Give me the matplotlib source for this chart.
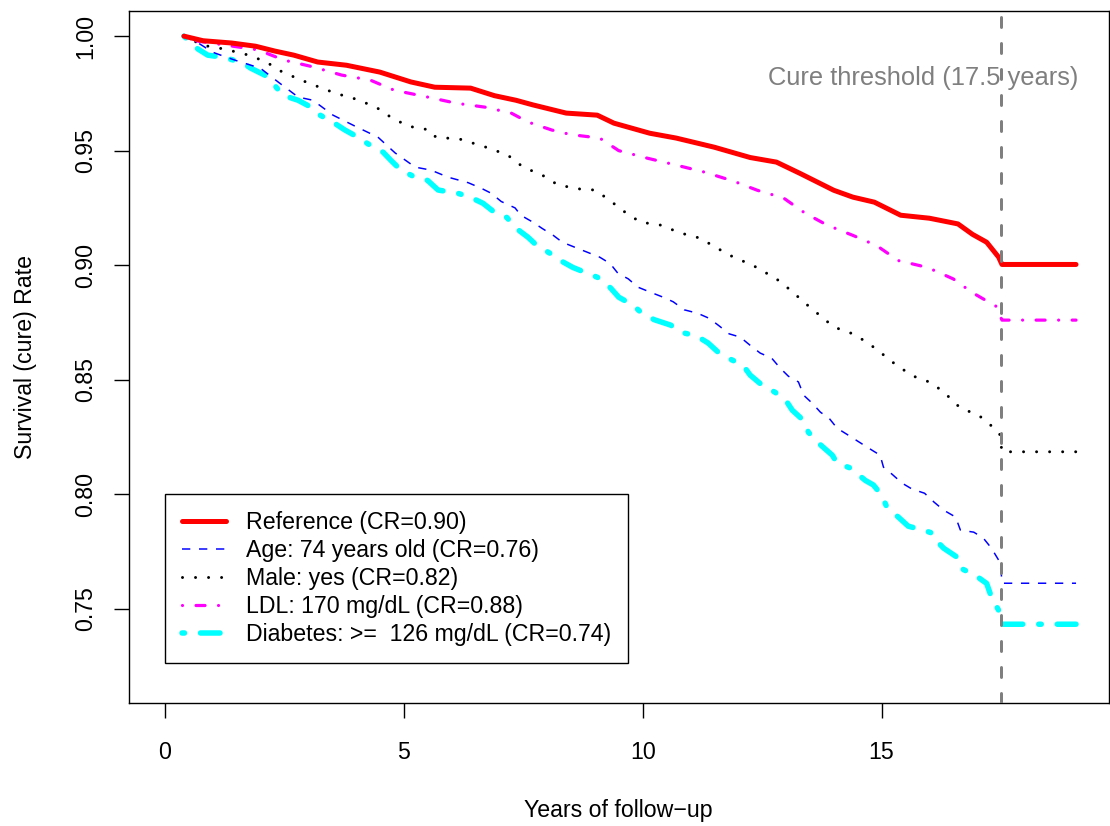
import matplotlib
matplotlib.use("Agg")
import matplotlib.pyplot as plt

plt.rcParams['font.family'] = ['Liberation Sans', 'DejaVu Sans']

# ---------------- data ----------------
ref_t = [0.40, 0.80, 1.40, 1.90, 2.30, 2.70, 3.20, 3.80, 4.50, 5.15, 5.65, 6.40,
         6.90, 7.35, 7.70, 8.40, 9.05, 9.40, 10.15, 10.70, 11.50, 12.25, 12.80,
         13.30, 14.00, 14.40, 14.85, 15.40, 16.00, 16.60, 16.90, 17.20, 17.45,
         17.52, 19.07]
ref_s = [1.000, 0.998, 0.997, 0.9956, 0.9935, 0.9917, 0.9887, 0.9873, 0.9843,
         0.980, 0.9777, 0.9773, 0.974, 0.972, 0.970, 0.9664, 0.9655, 0.962,
         0.9576, 0.9555, 0.9515, 0.947, 0.945, 0.940, 0.9327, 0.9297, 0.9275,
         0.9218, 0.9205, 0.918, 0.9135, 0.910, 0.9035, 0.9003, 0.9003]

age_t = [0.40, 0.70, 1.00, 1.17, 1.47, 2.00, 2.37, 2.79, 3.10, 3.52, 3.98, 4.46,
         4.82, 5.24, 5.57, 5.93, 6.35, 6.62, 6.83, 7.04, 7.33, 7.45, 7.70, 7.90,
         8.13, 8.32, 8.63, 9.10, 9.32, 9.48, 9.70, 9.90, 10.16, 10.43, 10.64,
         10.87, 11.15, 11.39, 11.60, 11.81, 12.04, 12.25, 12.46, 12.70, 12.88,
         13.05, 13.26, 13.37, 13.55, 13.72, 13.90, 14.07, 14.30, 14.70, 14.97,
         15.04, 15.22, 15.43, 15.64, 15.90, 16.10, 16.30, 16.55, 16.65, 16.93,
         17.13, 17.30, 17.45, 17.50, 17.52, 19.07]
age_s = [1.000, 0.997, 0.993, 0.9917, 0.9895, 0.986, 0.980, 0.9734, 0.972,
         0.9655, 0.9607, 0.9559, 0.949, 0.9428, 0.9415, 0.9384, 0.936, 0.9336,
         0.9314, 0.9278, 0.925, 0.9218, 0.9188, 0.916, 0.913, 0.910, 0.9074,
         0.9035, 0.9007, 0.8965, 0.894, 0.8904, 0.8882, 0.886, 0.884, 0.8805,
         0.879, 0.8768, 0.8735, 0.870, 0.8686, 0.865, 0.8616, 0.8594, 0.855,
         0.8515, 0.849, 0.8432, 0.8397, 0.8358, 0.8332, 0.8288, 0.8258, 0.8205,
         0.817, 0.8118, 0.8087, 0.8048, 0.8022, 0.8004, 0.7965, 0.793, 0.790,
         0.7843, 0.7834, 0.7808, 0.7764, 0.7712, 0.767, 0.7611, 0.7611]

male_t = [0.40, 0.80, 1.26, 1.70, 2.10, 2.43, 2.83, 3.20, 3.58, 4.00, 4.42, 4.73,
          5.09, 5.55, 5.67, 6.18, 6.80, 7.18, 7.50, 7.90, 8.23, 8.70, 9.00, 9.28,
          9.60, 9.95, 10.37, 10.80, 11.20, 11.56, 11.90, 12.30, 12.80, 13.10,
          13.40, 13.70, 14.00, 14.40, 14.72, 15.03, 15.33, 15.67, 16.06, 16.37,
          16.65, 17.03, 17.33, 17.47, 17.52, 19.07]
male_s = [1.000, 0.996, 0.9943, 0.992, 0.989, 0.9847, 0.981, 0.978, 0.975,
          0.9725, 0.969, 0.9646, 0.9607, 0.959, 0.9559, 0.955, 0.951, 0.948,
          0.9428, 0.9393, 0.935, 0.9332, 0.9328, 0.9288, 0.9236, 0.9188, 0.9175,
          0.914, 0.9118, 0.9074, 0.9035, 0.900, 0.894, 0.889, 0.8834, 0.8782,
          0.873, 0.870, 0.866, 0.861, 0.856, 0.8515, 0.8485, 0.8432, 0.8376,
          0.8345, 0.8293, 0.8266, 0.8185, 0.8185]

ldl_t = [0.40, 0.63, 1.30, 1.95, 2.50, 3.10, 3.70, 4.30, 4.80, 5.50, 6.10, 6.70,
         7.25, 7.60, 8.10, 8.50, 9.10, 9.50, 10.10, 10.70, 11.30, 11.90, 12.40,
         12.95, 13.40, 13.86, 14.40, 14.90, 15.35, 15.96, 16.50, 16.90, 17.40,
         17.52, 19.07]
ldl_s = [1.000, 0.998, 0.996, 0.994, 0.9895, 0.9866, 0.983, 0.9808, 0.9764,
         0.9734, 0.9707, 0.969, 0.9664, 0.9625, 0.959, 0.957, 0.9555, 0.950,
         0.9467, 0.9437, 0.9406, 0.9367, 0.9327, 0.9293, 0.9227, 0.9175, 0.913,
         0.9085, 0.902, 0.899, 0.894, 0.888, 0.882, 0.876, 0.876]

dia_t = [0.40, 0.65, 0.73, 0.90, 1.20, 1.60, 1.80, 2.09, 2.32, 2.47, 2.79, 3.06,
         3.25, 3.52, 3.77, 4.04, 4.25, 4.57, 4.73, 4.94, 5.24, 5.50, 5.72, 6.13,
         6.39, 6.66, 6.91, 7.16, 7.34, 7.60, 7.78, 8.06, 8.28, 8.54, 9.10, 9.33,
         9.50, 9.80, 9.97, 10.24, 10.59, 10.79, 11.12, 11.37, 11.58, 11.83,
         12.10, 12.25, 12.50, 12.77, 12.98, 13.13, 13.36, 13.47, 13.68, 13.97,
         14.07, 14.35, 14.66, 14.83, 15.00, 15.12, 15.35, 15.56, 15.87, 16.06,
         16.13, 16.30, 16.58, 16.65, 16.96, 17.20, 17.30, 17.45, 17.52, 19.07]
dia_s = [1.000, 0.995, 0.9939, 0.9917, 0.9908, 0.9887, 0.986, 0.983, 0.978,
         0.9742, 0.972, 0.969, 0.9655, 0.9624, 0.959, 0.9559, 0.953, 0.9493,
         0.9458, 0.9415, 0.9384, 0.937, 0.9328, 0.9314, 0.9297, 0.927, 0.9229,
         0.9208, 0.9163, 0.9122, 0.9087, 0.9052, 0.902, 0.899, 0.8943, 0.890,
         0.886, 0.8825, 0.8793, 0.8762, 0.8738, 0.8707, 0.8692, 0.866, 0.862,
         0.859, 0.8563, 0.852, 0.8476, 0.8445, 0.8415, 0.8367, 0.8323, 0.827,
         0.8223, 0.817, 0.8135, 0.8114, 0.806, 0.804, 0.7996, 0.7939, 0.790,
         0.786, 0.7843, 0.783, 0.780, 0.7764, 0.7725, 0.7677, 0.7646, 0.761,
         0.755, 0.7493, 0.7432, 0.7432]

labels = ["Reference (CR=0.90)",
          "Age: 74 years old (CR=0.76)",
          "Male: yes (CR=0.82)",
          "LDL: 170 mg/dL (CR=0.88)",
          "Diabetes: >=  126 mg/dL (CR=0.74)"]

cure_threshold = 17.5
x_ticks = [0, 5, 10, 15]
y_ticks = [0.75, 0.80, 0.85, 0.90, 0.95, 1.00]

# ---------------- figure ----------------
W, H = 1110, 826
DPI = 100
PX = 72.0 / DPI  # points per pixel
FS = 16.7

fig = plt.figure(figsize=(W / DPI, H / DPI), dpi=DPI)
ax = fig.add_axes([128.5 / W, 1 - 703 / H, (1109 - 128.5) / W, (703 - 10.5) / H])

ax.set_xlim(-0.76, 19.76)
ax.set_ylim(0.7088, 1.0112)

# reference: red solid thick
ax.plot(ref_t, ref_s, color='#FF0000', lw=5 * PX,
        solid_capstyle='round', solid_joinstyle='round', label=labels[0], zorder=6)

# age: blue dashed thin
lw_b = 1.5
ax.plot(age_t, age_s, color='#0000FF', lw=lw_b * PX,
        linestyle=(0, (8.3 / lw_b, 8.7 / lw_b)), dash_capstyle='butt',
        label=labels[1], zorder=4)

# male: black dotted
lw_k = 3.0
ax.plot(male_t, male_s, color='black', lw=lw_k * PX,
        linestyle=(0, (0.01, 13.0 / lw_k)), dash_capstyle='round',
        label=labels[2], zorder=4)

# ldl: magenta dot-dash
lw_m = 3.2
ax.plot(ldl_t, ldl_s, color='#FF00FF', lw=lw_m * PX,
        linestyle=(0, (0.01, 13.5 / lw_m, 9.0 / lw_m, 13.5 / lw_m)),
        dash_capstyle='round', label=labels[3], zorder=5)

# diabetes: cyan thick dot-dash
lw_c = 5.5
ax.plot(dia_t, dia_s, color='#00FFFF', lw=lw_c * PX,
        linestyle=(0, (2.5 / lw_c, 16.0 / lw_c, 19.5 / lw_c, 16.0 / lw_c)),
        dash_capstyle='round', label=labels[4], zorder=3)

# cure threshold
lw_g = 3.0
ax.axvline(cure_threshold, color='#7F7F7F', lw=lw_g * PX,
           linestyle=(0, (10.0 / lw_g, 16.0 / lw_g)), dash_capstyle='round', zorder=7)
ax.text(15.87, 0.9817, "Cure threshold (17.5 years)", color='#7F7F7F',
        fontsize=18.4, ha='center', va='center', zorder=2)

# axes styling (R base look)
for s in ax.spines.values():
    s.set_linewidth(1.0)
ax.set_xticks(x_ticks)
ax.set_xticklabels([str(v) for v in x_ticks])
ax.set_yticks(y_ticks)
ax.set_yticklabels([f"{v:.2f}" for v in y_ticks], rotation=90, va='center')
ax.tick_params(axis='both', direction='out', length=15 * PX, width=1.0,
               labelsize=FS)
ax.tick_params(axis='x', pad=23 * PX)
ax.tick_params(axis='y', pad=16 * PX)

ax.set_xlabel("Years of follow\u2212up", fontsize=FS, labelpad=35 * PX)
ax.set_ylabel("Survival (cure) Rate", fontsize=FS, labelpad=37 * PX)

leg = ax.legend(loc='upper left', bbox_to_anchor=(0, 0.80),
                bbox_transform=ax.transData, borderaxespad=0,
                fontsize=FS, frameon=True, fancybox=False, framealpha=1,
                edgecolor='black', handlelength=1.9, handletextpad=0.86,
                labelspacing=0.215, borderpad=0.74)
leg.get_frame().set_linewidth(1.0)

fig.savefig("out.png", dpi=DPI)
